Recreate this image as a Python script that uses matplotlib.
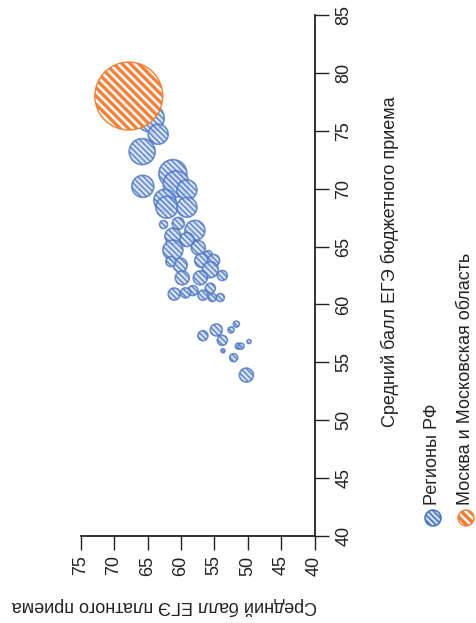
import matplotlib
matplotlib.use("Agg")
import matplotlib.pyplot as plt

plt.rcParams['font.family'] = ['Liberation Sans Narrow', 'Liberation Sans', 'DejaVu Sans']
plt.rcParams['hatch.linewidth'] = 1.6

# регионы РФ: средний балл платного / бюджетного приема, размер пузыря
reg_paid = [64.6, 63.4, 65.8, 65.7, 61.2, 60.7, 59.1, 62.4, 62.1, 59.1,
            62.6, 60.4, 57.9, 61.2, 59.1, 61.2, 57.4, 55.9, 56.9, 55.1,
            60.1, 61.5, 55.6, 53.8, 59.8, 57.1, 61.0, 58.2, 55.6, 54.1,
            55.3, 59.3, 56.7, 56.7, 54.7, 53.8, 52.5, 51.7, 51.4, 51.0,
            49.8, 53.7, 52.1, 50.2]
reg_budget = [76.1, 74.7, 73.2, 70.2, 71.3, 70.4, 69.9, 69.0, 68.4, 68.4,
              66.9, 67.0, 66.4, 65.9, 65.6, 64.7, 64.9, 64.3, 63.8, 63.8,
              63.4, 63.7, 63.0, 62.5, 62.3, 62.3, 60.9, 61.2, 61.4, 60.6,
              60.6, 61.0, 60.8, 57.3, 57.8, 56.9, 57.8, 58.3, 56.4, 56.4,
              56.8, 56.0, 55.4, 53.9]
reg_size = [196, 100, 169, 121, 196, 169, 100, 121, 121, 100,
            16, 36, 100, 64, 49, 100, 49, 16, 49, 36,
            49, 25, 64, 25, 49, 49, 36, 25, 25, 16,
            16, 25, 25, 25, 36, 25, 9, 9, 9, 9,
            4, 4, 16, 49]

# Москва и Московская область
msk_paid = [67.8]
msk_budget = [78.0]
msk_size = [1156]

paid_ticks = [75, 70, 65, 60, 55, 50, 45, 40]
budget_ticks = [40, 45, 50, 55, 60, 65, 70, 75, 80, 85]

blue_edge = '#4a76c6'
blue_fill = '#d3def2'
orange = '#f47a2c'
txt = '#222222'
k = 2.07  # px^2 -> pt^2

blue_hatch = '\\' * 6
orange_hatch = '\\' * 4

fig = plt.figure(figsize=(4.77, 6.23), dpi=100)
ax = fig.add_axes([80.7 / 477, 1 - 536 / 623, (314.5 - 80.7) / 477, (536 - 15) / 623])

reg = ax.scatter(reg_paid, reg_budget, s=[v * k for v in reg_size],
                 facecolor=blue_fill, edgecolor=blue_edge, linewidth=1.2,
                 hatch=blue_hatch, alpha=0.8, zorder=2)
msk = ax.scatter(msk_paid, msk_budget, s=[v * k for v in msk_size],
                 facecolor='white', edgecolor=orange, linewidth=1.0,
                 hatch=orange_hatch, alpha=0.95, zorder=3)
if hasattr(msk, 'set_hatch_linewidth'):
    msk.set_hatch_linewidth(2.4)
    reg.set_hatch_linewidth(1.2)

ax.set_xlim(75, 40)
ax.set_ylim(40, 85)
ax.set_xticks(paid_ticks)
ax.set_yticks(budget_ticks)
for s in ['left', 'top']:
    ax.spines[s].set_visible(False)
for s in ['right', 'bottom']:
    ax.spines[s].set_linewidth(1.3)
    ax.spines[s].set_color(txt)
ax.yaxis.tick_right()
ax.tick_params(axis='both', direction='out', length=10, width=1.0, color=txt,
               labelsize=13, labelcolor=txt)
ax.tick_params(axis='y', pad=5)
ax.tick_params(axis='x', pad=4)
for lab in ax.get_xticklabels():
    lab.set_rotation(90)
for lab in ax.get_yticklabels():
    lab.set_rotation(90)
    lab.set_verticalalignment('center')

fig.text(390 / 477, 1 - 262 / 623, 'Средний балл ЕГЭ бюджетного приема',
         rotation=90, ha='center', va='center', fontsize=13, color=txt)
fig.text(164 / 477, 1 - 606 / 623, 'Средний балл ЕГЭ платного приема',
         rotation=180, ha='center', va='center', fontsize=13, color=txt)

# легенда
leg_x = [433 / 477, 466 / 477]
leg_y = 1 - 518 / 623
leg_labels = ['Регионы РФ', 'Москва и Московская область']
l1 = ax.scatter([leg_x[0]], [leg_y], s=130, transform=fig.transFigure, clip_on=False,
                facecolor=blue_fill, edgecolor=blue_edge, linewidth=1.2, hatch=blue_hatch)
l2 = ax.scatter([leg_x[1]], [leg_y], s=130, transform=fig.transFigure, clip_on=False,
                facecolor='white', edgecolor=orange, linewidth=1.0, hatch=orange_hatch)
if hasattr(l2, 'set_hatch_linewidth'):
    l2.set_hatch_linewidth(2.4)
    l1.set_hatch_linewidth(1.2)
for x, lab in zip(leg_x, leg_labels):
    fig.text(x, 1 - 505 / 623, lab, rotation=90, ha='center', va='bottom',
             fontsize=13, color=txt)

fig.savefig('out.png', dpi=100)
